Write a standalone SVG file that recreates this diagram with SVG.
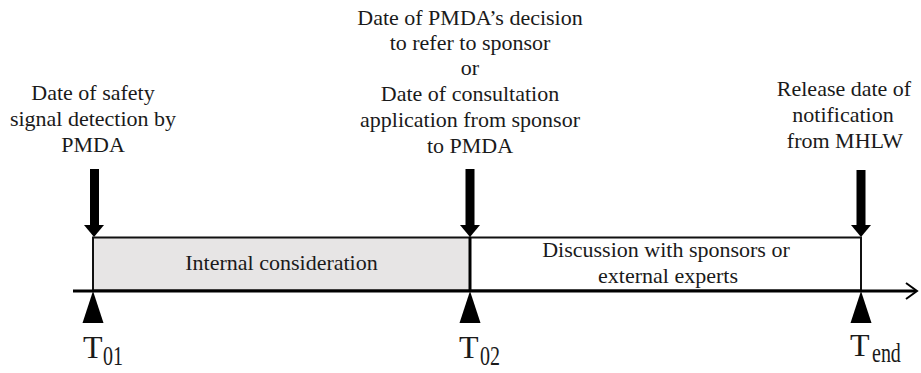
<svg xmlns="http://www.w3.org/2000/svg" width="921" height="373" viewBox="0 0 921 373">
<style>
.lbl{font-size:22px;text-anchor:middle}
.T{font-size:32px}
.sub{font-size:20px}
.arr{fill:#000}
</style>
<rect width="921" height="373" fill="#fff"/>
<g font-family="Liberation Serif, Times New Roman, serif" fill="#1a1a1a">
<g id="period-internal">
<rect x="93" y="237.5" width="377" height="53" fill="#e7e5e5" stroke="#111" stroke-width="2"/>
<text class="lbl" x="281.5" y="270">Internal consideration</text>
</g>
<g id="period-discussion">
<rect x="470" y="237.5" width="391" height="53" fill="#fff" stroke="#111" stroke-width="2"/>
<line x1="470" y1="237" x2="470" y2="291" stroke="#000" stroke-width="3"/>
<text class="lbl" x="666" y="257">Discussion with sponsors or</text>
<text class="lbl" x="668" y="283">external experts</text>
</g>
<g id="connectors">
<line x1="73" y1="291" x2="916" y2="291" stroke="#000" stroke-width="3"/>
<polyline points="906,283 917,291 906,299" fill="none" stroke="#000" stroke-width="2"/>
<g id="down-arrows">
<rect class="arr" x="90" y="169" width="9" height="57"/>
<polygon class="arr" points="84,225 104,225 94,237"/>
<rect class="arr" x="465.5" y="169" width="9" height="57"/>
<polygon class="arr" points="460,225 480,225 470,237"/>
<rect class="arr" x="856.5" y="170" width="9" height="56"/>
<polygon class="arr" points="851,225 871,225 861,237"/>
</g>
<g id="up-triangles">
<polygon class="arr" points="93,291 103.5,323 82.5,323"/>
<polygon class="arr" points="470,291 480.5,323 459.5,323"/>
<polygon class="arr" points="861,291 871.5,323 850.5,323"/>
</g>
</g>
<g id="t01">
<text class="lbl" x="93" y="100">Date of safety</text>
<text class="lbl" x="93" y="126">signal detection by</text>
<text class="lbl" x="93" y="152">PMDA</text>
<text class="T" x="83" y="358">T</text>
<text class="sub" transform="translate(103,365) scale(1,1.4)">01</text>
</g>
<g id="t02">
<text class="lbl" x="470" y="25">Date of PMDA’s decision</text>
<text class="lbl" x="470" y="50">to refer to sponsor</text>
<text class="lbl" x="470" y="75">or</text>
<text class="lbl" x="470" y="101">Date of consultation</text>
<text class="lbl" x="470" y="127">application from sponsor</text>
<text class="lbl" x="470" y="153">to PMDA</text>
<text class="T" x="459" y="358">T</text>
<text class="sub" transform="translate(480,365) scale(1,1.4)">02</text>
</g>
<g id="tend">
<text class="lbl" x="844" y="96">Release date of</text>
<text class="lbl" x="843" y="122">notification</text>
<text class="lbl" x="845" y="148">from MHLW</text>
<text class="T" x="850" y="356">T</text>
<text class="sub" transform="translate(872,362) scale(1,1.4)">end</text>
</g>
</g>
</svg>
